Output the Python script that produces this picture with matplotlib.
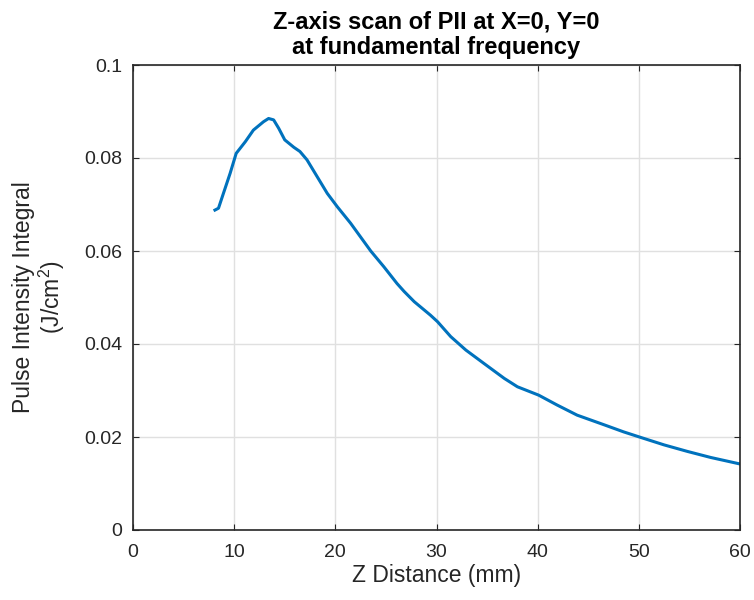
import matplotlib
matplotlib.use("Agg")
import matplotlib.pyplot as plt

z_mm = [8.1, 8.45, 9.0, 9.6, 10.2, 11.1, 11.9, 12.9, 13.4, 13.9, 14.4, 15.0, 15.9, 16.5,
        17.2, 18.2, 19.2, 20.2, 21.5, 22.5, 23.5, 24.8, 26.1, 26.8, 27.8, 29.4, 30.1,
        31.4, 32.9, 34.7, 36.7, 38.0, 40.1, 41.9, 43.9, 46.6, 48.5, 50.2, 52.5, 54.8,
        57.1, 60.0]
pii = [0.0688, 0.0692, 0.0728, 0.0767, 0.0810, 0.0835, 0.0860, 0.0878, 0.0885, 0.0882,
       0.0864, 0.0839, 0.0823, 0.0814, 0.0796, 0.0760, 0.0724, 0.0695, 0.0660, 0.0630,
       0.0600, 0.0566, 0.0530, 0.0513, 0.0491, 0.0462, 0.0448, 0.0416, 0.0387, 0.0358,
       0.0326, 0.0308, 0.0290, 0.0269, 0.0247, 0.0226, 0.0211, 0.0199, 0.0183, 0.0169,
       0.0156, 0.0142]
x_ticks = [0, 10, 20, 30, 40, 50, 60]
y_ticks = [0, 0.02, 0.04, 0.06, 0.08, 0.1]
y_tick_labels = ["0", "0.02", "0.04", "0.06", "0.08", "0.1"]

plt.rcParams['font.family'] = ['Liberation Sans', 'DejaVu Sans']
plt.rcParams['mathtext.fontset'] = 'custom'
plt.rcParams['mathtext.rm'] = 'Liberation Sans'
fig = plt.figure(figsize=(7.54, 6.0), dpi=100)
ax = fig.add_axes([133/754, 1-530/600, (740-133)/754, (530-65)/600])

dark = '#262626'
ax.plot(z_mm, pii, color='#0072BD', lw=2.2)
ax.set_xlim(0, 60)
ax.set_ylim(0, 0.1)
ax.set_xticks(x_ticks)
ax.set_yticks(y_ticks)
ax.set_yticklabels(y_tick_labels)
ax.grid(True, color='#e0e0e0', lw=1)
ax.set_axisbelow(True)
ax.tick_params(direction='in', length=4, colors=dark, labelsize=14, labelcolor=dark,
               top=True, right=True)
ax.tick_params(axis='x', pad=10)
ax.tick_params(axis='y', pad=8)
for s in ax.spines.values():
    s.set_color(dark)
    s.set_linewidth(1.2)
ax.set_xlabel('Z Distance (mm)', fontsize=16.5, color=dark, labelpad=2)
ax.set_ylabel('Pulse Intensity Integral\n(J/cm$\\mathrm{^2}$)', fontsize=16.5, color=dark,
              labelpad=12, linespacing=1.1)
ax.set_title('Z-axis scan of PII at X=0, Y=0\nat fundamental frequency', fontsize=17,
             fontweight='bold', color='#000000', pad=8, linespacing=1.15)
fig.savefig('out.png', dpi=100)
